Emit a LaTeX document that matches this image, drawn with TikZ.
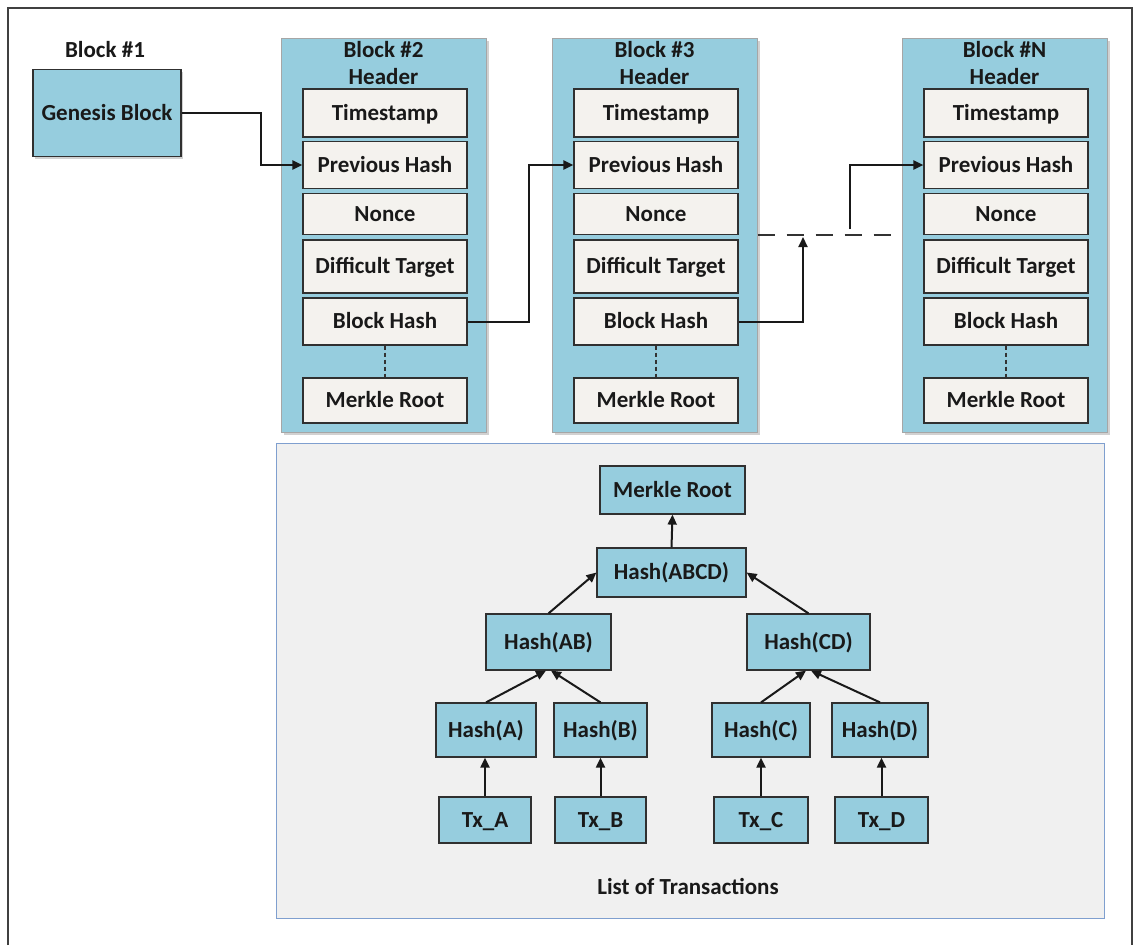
\documentclass[tikz,border=0pt]{standalone}
\usepackage{fontspec}
\setmainfont{Carlito}
\usetikzlibrary{shadows,arrows.meta}
\definecolor{cellblue}{HTML}{96CDDE}
\definecolor{cream}{HTML}{F4F2EE}
\definecolor{panelgray}{HTML}{F0F0F0}
\definecolor{panelrim}{HTML}{7F9FCF}
\definecolor{rim}{HTML}{303030}
\tikzset{
  every node/.style={font=\bfseries\fontsize{23}{27}\selectfont, inner sep=0pt, text=black!90,
    text height=17pt, text depth=2.2pt},
  blockbox/.style={rectangle, draw=black!35, line width=1pt, fill=cellblue,
    drop shadow={shadow xshift=3pt, shadow yshift=-3pt, fill=black!18, opacity=1}},
  field/.style={rectangle, draw=rim, line width=1.2pt, fill=cream, minimum width=164pt},
  hashbox/.style={rectangle, draw=rim, line width=1.2pt, fill=cellblue,
    drop shadow={shadow xshift=1.2pt, shadow yshift=-1.2pt, fill=black!45, opacity=1}},
  link/.style={line width=2pt, black!90, -{Triangle[length=10pt,width=9pt]}},
  treearrow/.style={line width=2pt, black!90, -{Triangle[length=10pt,width=9pt]}},
}
\begin{document}
\begin{tikzpicture}[x=1pt,y=-1pt]
\useasboundingbox (0,0) rectangle (1134,945);
% outer frame (open at the bottom edge)
\draw[line width=2pt, black!75] (8,945) -- (8,8) -- (1132,8) -- (1132,945);

% genesis block
\node (b1lab) at (105,50) {Block \#1};
\node[rectangle, draw=rim, line width=1.2pt, fill=cellblue, minimum width=148pt, minimum height=87pt,
  drop shadow={shadow xshift=2pt, shadow yshift=-2pt, fill=black!18, opacity=1}]
  (gen) at (107,113) {Genesis Block};

% block headers
\foreach \b/\x in {2/383.5, 3/654.5, N/1004.5}{
  \node[blockbox, minimum width=205pt, minimum height=394pt] (blk\b) at (\x,235) {};
  \node (tit\b) at (\x,50) {Block \#\b};
  \node (hdr\b) at (\x,77) {Header};
  \node[field, minimum height=48pt] (ts\b) at (\x+1.5,113) {Timestamp};
  \node[field, minimum height=47pt] (ph\b) at (\x+1.5,165) {Previous Hash};
  \node[field, minimum height=41pt] (nc\b) at (\x+1.5,214) {Nonce};
  \node[field, minimum height=53pt] (dt\b) at (\x+1.5,266.5) {Difficult Target};
  \node[field, minimum height=47pt] (bh\b) at (\x+1.5,321.5) {Block Hash};
  \node[field, minimum height=45pt] (mr\b) at (\x+1.5,400.5) {Merkle Root};
  \draw[line width=1.5pt, black!80, dash pattern=on 4pt off 3pt] (bh\b.south) -- (mr\b.north);
}

% chain links
\draw[link] (gen.east) -- ++(79,0) |- (ph2.west);
\draw[link] (bh2.east) -- ++(61,0) |- (ph3.west);
\coordinate (gapin) at (803,237);
\coordinate (gapout) at (850,229);
\draw[link] (bh3.east) -| (gapin);
\draw[line width=2pt, black!80, dash pattern=on 17pt off 12pt] (blk3.east |- 0,235) -- (893,235);
\draw[link] (gapout) |- (phN.west);

% merkle tree panel
\node[rectangle, draw=panelrim, line width=1pt, fill=panelgray, minimum width=828pt, minimum height=475pt]
  (panel) at (690,680.5) {};
\node[hashbox, minimum width=145pt, minimum height=48pt] (root) at (672.5,490) {Merkle Root};
\node[hashbox, minimum width=149pt, minimum height=49pt] (abcd) at (671.5,572.5) {Hash(ABCD)};
\node[hashbox, minimum width=125pt, minimum height=56pt] (ab) at (548.5,642) {Hash(AB)};
\node[hashbox, minimum width=123pt, minimum height=56pt] (cd) at (808.5,642) {Hash(CD)};
\node[hashbox, minimum width=100pt, minimum height=54pt] (ha) at (486,730) {Hash(A)};
\node[hashbox, minimum width=93pt, minimum height=54pt] (hb) at (600.5,730) {Hash(B)};
\node[hashbox, minimum width=98pt, minimum height=54pt] (hc) at (761,730) {Hash(C)};
\node[hashbox, minimum width=96pt, minimum height=54pt] (hd) at (880,730) {Hash(D)};
\node[hashbox, minimum width=92pt, minimum height=46pt] (txa) at (485,820) {Tx\_A};
\node[hashbox, minimum width=91pt, minimum height=46pt] (txb) at (600.5,820) {Tx\_B};
\node[hashbox, minimum width=94pt, minimum height=46pt] (txc) at (761,820) {Tx\_C};
\node[hashbox, minimum width=93pt, minimum height=46pt] (txd) at (881.5,820) {Tx\_D};
\node (list) at (688,887) {List of Transactions};

\draw[treearrow] (abcd.north) -- (root.south);
\draw[treearrow] (ab.north) -- (abcd.west);
\draw[treearrow] (cd.north) -- (abcd.east);
\draw[treearrow] (ha.north) -- ([xshift=-2.5pt]ab.south);
\draw[treearrow] (hb.north) -- ([xshift=2.5pt]ab.south);
\draw[treearrow] (hc.north) -- ([xshift=-2.5pt]cd.south);
\draw[treearrow] (hd.north) -- ([xshift=2.5pt]cd.south);
\draw[treearrow] (txa.north) -- (txa.north |- ha.south);
\draw[treearrow] (txb.north) -- (txb.north |- hb.south);
\draw[treearrow] (txc.north) -- (txc.north |- hc.south);
\draw[treearrow] (txd.north) -- (txd.north |- hd.south);
\end{tikzpicture}
\end{document}
